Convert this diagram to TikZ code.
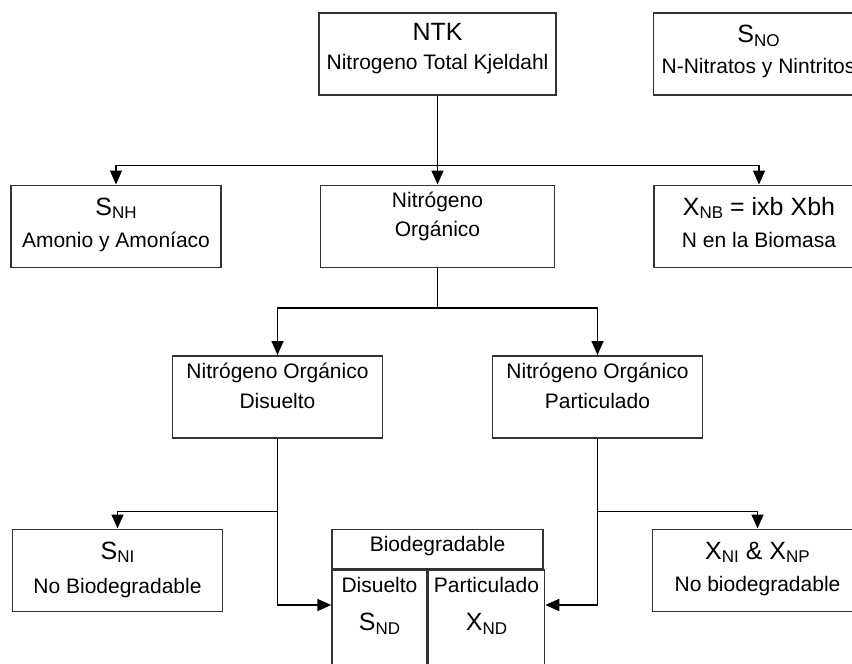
\documentclass[tikz,border=0pt]{standalone}
\usepackage{fontspec}
\setmainfont{Liberation Sans}
\usetikzlibrary{positioning,arrows.meta,calc}
\definecolor{boxline}{HTML}{333333}
\newcommand{\bigsym}[1]{{\fontsize{25}{29}\selectfont #1}}
\newcommand{\lowidx}[1]{\raisebox{-3.5pt}{\fontsize{17}{20}\selectfont #1}}
\newcommand{\twoline}[3][0pt]{\begin{tabular}[t]{@{}c@{}}#2\\[#1]#3\end{tabular}}
\tikzset{
    every node/.style={font=\fontsize{21}{29}\selectfont},
    species/.style={draw=boxline,line width=1.5pt,inner sep=0pt,minimum width=210pt,text height=30pt,text depth=52pt},
    fraction/.style={draw=boxline,line width=1.5pt,inner sep=0pt,minimum width=210pt,text height=22.5pt,text depth=59.5pt},
    biohead/.style={draw=boxline,line width=1.5pt,inner sep=0pt,minimum width=211pt,text height=22pt,text depth=17pt},
    biocol/.style={draw=boxline,line width=1.5pt,inner sep=0pt,text height=23pt,text depth=115pt},
    flow/.style={draw,line width=1.6pt,-{Triangle[length=14pt,width=12pt]}},
    link/.style={draw,line width=1.6pt}
}
\begin{document}
\begin{tikzpicture}[x=1pt,y=1pt]
\useasboundingbox (0,0) rectangle (852,-664);
\node[species,minimum width=237pt,text height=28pt,text depth=54pt,anchor=north] (ntk) at (437.5,-12) {\twoline{\bigsym{NTK}}{Nitrogeno Total Kjeldahl}};
\node[species,right=96pt of ntk] (sno) {\twoline[2pt]{\bigsym{S}\lowidx{NO}}{N-Nitratos y Nintritos}};
\node[fraction,minimum width=234pt,below=89pt of ntk] (norg) {\twoline{Nitrógeno}{Orgánico}};
\node[species,left=98pt of norg] (snh) {\twoline[3pt]{\bigsym{S}\lowidx{NH}}{Amonio y Amoníaco}};
\node[species,right=98pt of norg] (xnb) {\twoline[3pt]{\bigsym{X\lowidx{NB} = ixb Xbh}}{N en la Biomasa}};
\node[fraction,below=87pt of norg,xshift=-160pt] (disu) {\twoline[1pt]{Nitrógeno Orgánico}{Disuelto}};
\node[fraction,below=87pt of norg,xshift=160pt] (part) {\twoline[1pt]{Nitrógeno Orgánico}{Particulado}};
\node[species,below=90pt of disu,xshift=-160pt] (sni) {\twoline[5pt]{\bigsym{S}\lowidx{NI}}{No Biodegradable}};
\node[species,below=90pt of part,xshift=160pt] (xni) {\twoline[3pt]{\bigsym{X\lowidx{NI} \& X\lowidx{NP}}}{No biodegradable}};
\node[biohead,anchor=north] (bio) at (norg |- sni.north) {Biodegradable};
\node[biocol,minimum width=95pt,anchor=north west] (bios) at (bio.south west) {\twoline[9pt]{Disuelto}{\bigsym{S}\lowidx{ND}}};
\node[biocol,minimum width=116pt,anchor=north west] (biox) at (bios.north east) {\twoline[9pt]{Particulado}{\bigsym{X}\lowidx{ND}}};
\coordinate (j1) at ($(ntk.south)+(0,-70)$);
\coordinate (j2) at ($(norg.south)+(0,-40)$);
\coordinate (j3) at ($(disu.south)+(0,-73)$);
\coordinate (j4) at ($(part.south)+(0,-73)$);
\coordinate (ins) at ($(bios.north west)+(0,-36)$);
\coordinate (inx) at ($(biox.north east)+(0,-36)$);
\draw[flow] (ntk) -- (norg);
\draw[flow] (j1) -| (snh.north);
\draw[flow] (j1) -| (xnb.north);
\draw[link] (norg) -- (j2);
\draw[flow] (j2) -| (disu.north);
\draw[flow] (j2) -| (part.north);
\draw[link] (disu) -- (j3);
\draw[flow] (j3) -| (sni.north);
\draw[flow] (j3) |- (ins);
\draw[link] (part) -- (j4);
\draw[flow] (j4) -| (xni.north);
\draw[flow] (j4) |- (inx);
\end{tikzpicture}
\end{document}
